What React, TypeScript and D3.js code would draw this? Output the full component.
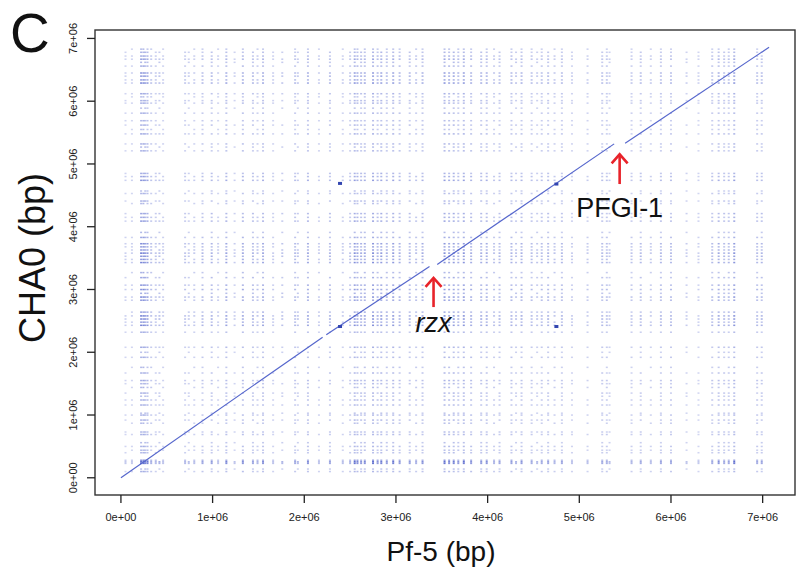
import React from "react";
import * as d3 from "d3";

// Genome sizes (bp)
const PF5_LENGTH = 7.07e6;
const CHA0_LENGTH = 6.86e6;

// Collinear alignment blocks: [Pf-5 start, CHA0 start, Pf-5 end, CHA0 end] in Mb
const syntenyBlocks: [number, number, number, number][] = [
  [0.0, 0.0, 2.2, 2.24],
  [2.24, 2.28, 3.366, 3.365],
  [3.45, 3.4, 5.38, 5.32],
  [5.5, 5.33, 7.07, 6.86],
];

// Short duplicated hits off the main diagonal: [Pf-5 Mb, CHA0 Mb]
const duplicationHits: [number, number][] = [
  [2.39, 2.41],
  [4.75, 4.68],
  [2.39, 4.69],
  [4.75, 2.41],
];

// Repeat loci in Pf-5 (Mb, weight, repeat families)
const pf5Repeats: [number, number, string][] = [
  [0.05, 0.25, "a"], [0.12, 0.25, "b"],
  [0.22, 0.9, "abc"], [0.245, 1, "ab"], [0.265, 0.8, "ac"], [0.29, 0.7, "abc"], [0.33, 0.5, "b"], [0.38, 0.4, "a"], [0.42, 0.5, "c"], [0.46, 0.3, "b"],
  [0.7, 0.4, "a"], [0.74, 0.35, "c"], [0.8, 0.35, "b"], [0.89, 0.5, "ab"], [0.99, 0.55, "ac"], [1.06, 0.3, "b"], [1.15, 0.6, "abc"], [1.24, 0.3, "c"],
  [1.33, 0.65, "ab"], [1.44, 0.5, "ac"], [1.49, 0.45, "b"], [1.55, 0.55, "abc"], [1.66, 0.3, "a"], [1.76, 0.45, "c"], [1.9, 0.45, "ab"], [1.93, 0.4, "c"],
  [2.04, 0.55, "abc"], [2.16, 0.3, "b"], [2.28, 0.5, "ac"],
  [2.42, 0.35, "b"], [2.5, 0.45, "a"], [2.55, 0.8, "abc"], [2.58, 0.7, "ab"], [2.62, 0.6, "ac"], [2.66, 0.7, "bc"],
  [2.75, 0.8, "abc"], [2.8, 0.6, "ab"], [2.84, 0.8, "ac"], [2.9, 0.6, "bc"], [2.97, 0.7, "abc"], [3.04, 0.6, "ab"],
  [3.15, 0.55, "ac"], [3.22, 0.5, "b"], [3.29, 0.55, "abc"],
  [3.53, 0.8, "abc"], [3.58, 0.7, "ab"], [3.63, 0.8, "ac"], [3.68, 0.6, "bc"], [3.74, 0.75, "abc"], [3.82, 0.6, "ab"],
  [3.93, 0.6, "ac"], [3.99, 0.55, "abc"], [4.07, 0.45, "b"], [4.13, 0.5, "ac"], [4.26, 0.55, "ab"], [4.31, 0.45, "c"], [4.37, 0.5, "abc"],
  [4.48, 0.45, "ab"], [4.54, 0.4, "c"], [4.59, 0.45, "ab"], [4.66, 0.5, "ac"], [4.73, 0.45, "b"], [4.81, 0.4, "abc"], [4.92, 0.3, "a"], [5.09, 0.35, "b"],
  [5.25, 0.45, "ac"], [5.3, 0.4, "ab"], [5.33, 0.35, "c"],
  [5.57, 0.35, "ab"], [5.67, 0.45, "ac"], [5.78, 0.35, "b"], [5.89, 0.4, "abc"], [6.0, 0.45, "ab"], [6.17, 0.3, "c"],
  [6.3, 0.25, "a"], [6.45, 0.45, "ab"], [6.52, 0.55, "abc"], [6.58, 0.45, "ac"], [6.63, 0.5, "bc"], [6.69, 0.75, "abc"],
  [6.94, 0.45, "ab"], [6.99, 0.5, "ac"],
];

// Repeat loci in CHA0 (Mb, weight, repeat families)
const cha0Repeats: [number, number, string][] = [
  [0.1, 0.35, "ab"], [0.14, 0.3, "c"], [0.23, 0.8, "abc"], [0.255, 1, "abc"], [0.28, 0.6, "ab"],
  [0.4, 0.35, "a"], [0.44, 0.3, "bc"], [0.5, 0.35, "ab"], [0.56, 0.35, "c"], [0.69, 0.35, "ab"], [0.73, 0.3, "ac"],
  [0.87, 0.35, "b"], [0.92, 0.35, "ac"], [1.0, 0.35, "ab"], [1.03, 0.3, "c"], [1.16, 0.3, "abc"], [1.24, 0.35, "ab"],
  [1.3, 0.3, "c"], [1.35, 0.35, "ac"], [1.44, 0.4, "b"], [1.5, 0.3, "ac"], [1.55, 0.4, "ab"], [1.67, 0.35, "ac"],
  [1.76, 0.35, "b"], [1.92, 0.35, "ab"], [2.0, 0.3, "c"], [2.08, 0.35, "abc"], [2.32, 0.35, "ab"],
  [2.43, 0.6, "abc"], [2.48, 0.5, "ab"], [2.53, 0.7, "ac"], [2.58, 0.65, "abc"], [2.64, 0.5, "bc"],
  [2.83, 0.55, "ab"], [2.88, 0.6, "abc"], [2.94, 0.5, "c"], [3.0, 0.6, "ab"], [3.07, 0.5, "abc"],
  [3.19, 0.45, "ac"], [3.27, 0.45, "b"],
  [3.43, 0.6, "abc"], [3.48, 0.55, "ab"], [3.53, 0.6, "ac"], [3.58, 0.7, "abc"], [3.63, 0.55, "bc"], [3.68, 0.5, "ab"], [3.73, 0.55, "abc"],
  [3.83, 0.45, "ab"], [3.91, 0.4, "c"], [4.09, 0.45, "abc"], [4.15, 0.4, "ab"], [4.21, 0.45, "ac"], [4.37, 0.35, "b"], [4.41, 0.35, "ac"],
  [4.53, 0.3, "ab"], [4.57, 0.3, "c"],
  [4.74, 0.5, "abc"], [4.8, 0.45, "ab"], [4.85, 0.4, "ac"],
  [5.21, 0.35, "ab"], [5.27, 0.35, "c"], [5.32, 0.35, "ab"],
  [5.48, 0.35, "abc"], [5.55, 0.3, "b"], [5.62, 0.35, "ac"], [5.69, 0.3, "ab"],
  [5.81, 0.35, "ab"], [5.89, 0.3, "c"], [5.97, 0.35, "ab"],
  [6.01, 0.35, "ac"], [6.07, 0.3, "b"], [6.12, 0.35, "abc"],
  [6.29, 0.6, "abc"], [6.34, 0.5, "ab"], [6.4, 0.55, "ac"], [6.45, 0.5, "abc"],
  [6.56, 0.4, "ab"], [6.62, 0.4, "c"], [6.67, 0.45, "abc"], [6.72, 0.4, "ab"], [6.78, 0.35, "ac"], [6.83, 0.35, "b"],
];

const tickValues = [0, 1e6, 2e6, 3e6, 4e6, 5e6, 6e6, 7e6];

// Annotated regions: label, Pf-5 position (Mb), arrow tip (CHA0 Mb), arrow tail (CHA0 Mb), label baseline (CHA0 Mb)
const annotations: { label: string; italic: boolean; x: number; tip: number; tail: number; textY: number }[] = [
  { label: "rzx", italic: true, x: 3.41, tip: 3.2, tail: 2.72, textY: 2.33 },
  { label: "PFGI-1", italic: false, x: 5.44, tip: 5.17, tail: 4.68, textY: 4.16 },
];

const W = 798;
const H = 574;
const box = { left: 95, right: 795, top: 30, bottom: 495 };

const xPad = PF5_LENGTH * 0.04;
const yPad = CHA0_LENGTH * 0.04;
const x = d3.scaleLinear().domain([-xPad, PF5_LENGTH + xPad]).range([box.left, box.right]);
const y = d3.scaleLinear().domain([-yPad, CHA0_LENGTH + yPad]).range([box.bottom, box.top]);

const fmt = (v: number) => {
  const e = Math.floor(Math.log10(v || 1));
  const m = v === 0 ? 0 : v / Math.pow(10, e);
  return `${m}e+${String(v === 0 ? 0 : e).padStart(2, "0")}`;
};

const DOT = "#4d5ec9";
const LINE = "#5566cc";
const RED = "#e8232a";
const FONT = "'Liberation Sans', Arial, sans-serif";

export default function App() {
  const hits: { cx: number; cy: number; o: number }[] = [];
  for (const [px, pw, pt] of pf5Repeats) {
    for (const [cy, cw, ct] of cha0Repeats) {
      let shared = 0;
      for (const ch of pt) if (ct.includes(ch)) shared++;
      if (!shared) continue;
      const o = Math.min(0.95, 0.2 + 0.85 * pw * cw * (0.6 + 0.2 * shared));
      hits.push({ cx: x(px * 1e6), cy: y(cy * 1e6), o });
    }
  }

  const line = d3
    .line<[number, number]>()
    .x((d) => x(d[0] * 1e6))
    .y((d) => y(d[1] * 1e6));

  return (
    <svg width={W} height={H} style={{ display: "block", position: "absolute", left: 0, top: 0, background: "#fff" }}>
      <rect width={W} height={H} fill="#fff" />
      {/* repeat-vs-repeat hits */}
      <g fill={DOT}>
        {hits.map((h, i) => (
          <rect key={i} x={h.cx - 1} y={h.cy - 0.7} width={2} height={1.5} opacity={h.o} />
        ))}
      </g>
      {/* collinear blocks */}
      <g stroke={LINE} strokeWidth={1.2} fill="none">
        {syntenyBlocks.map((b, i) => (
          <path key={i} d={line([[b[0], b[1]], [b[2], b[3]]]) || ""} />
        ))}
      </g>
      <g fill="#3346b0">
        {duplicationHits.map((d, i) => (
          <rect key={i} x={x(d[0] * 1e6) - 2} y={y(d[1] * 1e6) - 1.5} width={4} height={3} />
        ))}
      </g>
      {/* frame */}
      <rect x={box.left} y={box.top} width={box.right - box.left} height={box.bottom - box.top} fill="none" stroke="#333" strokeWidth={1.4} />
      {/* x axis */}
      <g fontFamily={FONT} fontSize={11} fill="#222">
        {tickValues.map((t) => (
          <g key={t}>
            <line x1={x(t)} x2={x(t)} y1={box.bottom} y2={box.bottom + 8} stroke="#222" strokeWidth={1.3} />
            <text x={x(t)} y={521} textAnchor="middle">{fmt(t)}</text>
          </g>
        ))}
      </g>
      {/* y axis */}
      <g fontFamily={FONT} fontSize={11} fill="#222">
        {tickValues.map((t) => (
          <g key={t}>
            <line x1={box.left - 8} x2={box.left} y1={y(t)} y2={y(t)} stroke="#222" strokeWidth={1.3} />
            <text transform={`translate(77,${y(t)}) rotate(-90)`} textAnchor="middle">{fmt(t)}</text>
          </g>
        ))}
      </g>
      {/* annotations */}
      {annotations.map((a) => {
        const ax = x(a.x * 1e6);
        const tipY = y(a.tip * 1e6);
        const tailY = y(a.tail * 1e6);
        return (
          <g key={a.label}>
            <g stroke={RED} strokeWidth={2.6} fill="none" strokeLinecap="butt">
              <line x1={ax} x2={ax} y1={tailY} y2={tipY + 1} />
              <polyline points={`${ax - 8},${tipY + 10} ${ax},${tipY + 1} ${ax + 8},${tipY + 10}`} />
            </g>
            <text x={ax} y={y(a.textY * 1e6)} textAnchor="middle" fontFamily={FONT} fontSize={27} fontStyle={a.italic ? "italic" : "normal"} fill="#111">
              {a.label}
            </text>
          </g>
        );
      })}
      {/* titles */}
      <text x={441} y={561} textAnchor="middle" fontFamily={FONT} fontSize={28} fill="#111">Pf-5 (bp)</text>
      <text transform={`translate(45,258) rotate(-90)`} textAnchor="middle" fontFamily={FONT} fontSize={36} fill="#111">CHA0 (bp)</text>
      <text x={10} y={52} fontFamily={FONT} fontSize={55} fill="#111">C</text>
    </svg>
  );
}
